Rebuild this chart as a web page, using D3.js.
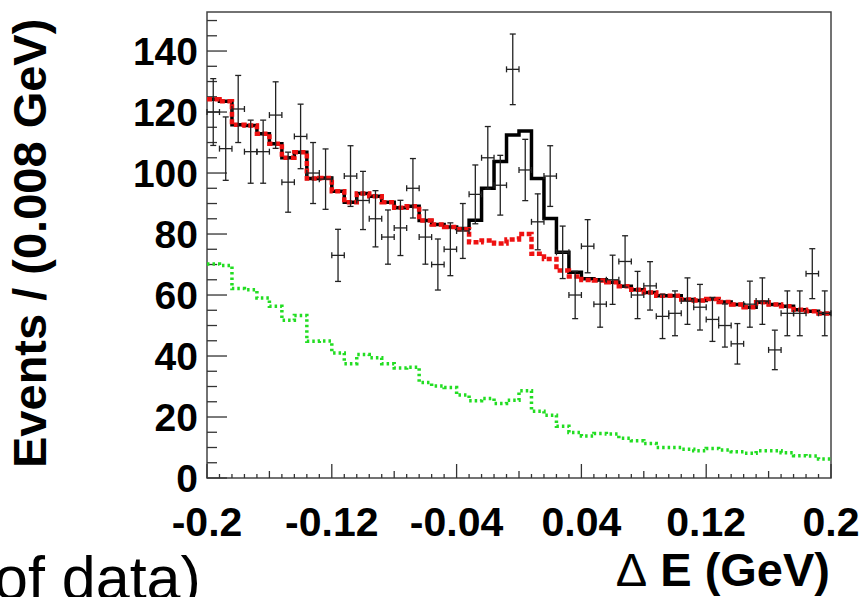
<!DOCTYPE html>
<html>
<head>
<meta charset="utf-8">
<script src="https://cdn.jsdelivr.net/npm/d3@7"></script>
<style>
  body { margin: 0; background: #fff; }
  text { font-family: "Liberation Sans", Arial, Helvetica, sans-serif; }
</style>
</head>
<body>
<svg id="chart"></svg>
<script>
// constants
const width = 864;
const height = 597;
const margin = { left: 207, right: 33, top: 12, bottom: 119 };
const visWidth = width - margin.left - margin.right
const visHeight = height - margin.top - margin.bottom

// 50 bins of 0.008 GeV between -0.2 and 0.2
const binLow = -0.2
const binWidth = 0.008

// data counts per bin
const dataCounts = [120, 108, 121, 107, 107, 119, 97, 112, 100, 98,
    73, 99, 91, 85, 79, 82, 95, 79, 70, 75,
    81, 93, 105, 96, 134, 101, 84, 99, 74, 60,
    76, 57, 65, 71, 60, 63, 53, 54, 58, 56,
    52, 50, 44, 57, 58, 42, 54, 54, 67, 54]

// total fit (black solid)
const fitTotal = [124.2, 123.5, 115.8, 115.6, 112.9, 109.6, 105, 106.8, 98.2, 98.4,
    94, 90.4, 93.3, 92.4, 90.4, 88.6, 89.1, 84.4, 83.1, 82.3,
    81.8, 84.5, 95, 103.8, 112.5, 113.8, 98.2, 85.1, 74, 67.5,
    65.3, 65, 64.2, 62.9, 61.7, 60.8, 59.8, 59.8, 58.5, 58.2,
    58.7, 57.7, 56.9, 56, 57.6, 56.9, 56.3, 55.2, 54.7, 53.9]

// background component (red dashed)
const fitBkg = [124.2, 123.5, 115.8, 115.6, 112.9, 109.6, 105, 106.8, 98.2, 98.4,
    94, 90.4, 93.3, 92.4, 90.4, 88.6, 89.1, 84.4, 83.1, 82.3,
    81.6, 77.3, 77.9, 76.9, 78.2, 80, 73.5, 71.8, 68, 66.1,
    64.9, 64.8, 64.2, 62.9, 61.7, 60.8, 59.8, 59.8, 58.5, 58.2,
    58.7, 57.7, 56.9, 56, 57.6, 56.9, 56.3, 55.2, 54.7, 53.9]

// peaking background component (green dotted)
const fitGreen = [70.2, 69.7, 62.1, 61.7, 59, 56.3, 51.7, 53.3, 44.8, 44.9,
    41, 37.5, 40.5, 39.4, 37.5, 36.1, 36.3, 31.3, 30.2, 29.7,
    27.2, 25.3, 26.1, 24.4, 25.5, 28.6, 21.9, 20.6, 17, 14.9,
    13.8, 14.6, 14.4, 13, 12.2, 11.3, 10, 10, 9.4, 8.9,
    9.7, 9.2, 8.6, 8.1, 8.9, 8.9, 8.3, 7.3, 7.2, 6.2]

const xTicks = [-0.2, -0.12, -0.04, 0.04, 0.12, 0.2]
const xTickLabels = ["-0.2", "-0.12", "-0.04", "0.04", "0.12", "0.2"]
const yTicks = [0, 20, 40, 60, 80, 100, 120, 140]

const svg = d3.select('svg#chart').attr('width', width).attr('height', height)

const x = d3.scaleLinear().domain([-0.2, 0.2]).range([margin.left, margin.left + visWidth])
const y = d3.scaleLinear().domain([0, 152.8]).range([margin.top + visHeight, margin.top])

const bins = dataCounts.map((n, i) => ({
    lo: binLow + i * binWidth,
    hi: binLow + (i + 1) * binWidth,
    mid: binLow + (i + 0.5) * binWidth,
    n: n,
    err: Math.sqrt(n)
}))

// frame
svg.append('rect')
    .attr('x', x(-0.2)).attr('y', y(152.8))
    .attr('width', x(0.2) - x(-0.2)).attr('height', y(0) - y(152.8))
    .attr('fill', 'none').attr('stroke', '#444').attr('stroke-width', 1.5)

// y ticks: major every 20, minor every 5
const yMinor = d3.range(0, 153, 5)
svg.append('g').selectAll('line').data(yMinor).enter().append('line')
    .attr('x1', x(-0.2)).attr('x2', d => x(-0.2) + (d % 20 === 0 ? 20 : 10))
    .attr('y1', d => y(d)).attr('y2', d => y(d))
    .attr('stroke', '#333').attr('stroke-width', 1.3)

// x ticks: major every 0.08, minor every 0.008
const xMinor = d3.range(0, 51).map(i => -0.2 + i * 0.008)
svg.append('g').selectAll('line').data(xMinor).enter().append('line')
    .attr('x1', d => x(d)).attr('x2', d => x(d))
    .attr('y1', y(0))
    .attr('y2', (d, i) => y(0) - (i % 10 === 0 ? 14 : (i % 5 === 0 ? 7 : 4)))
    .attr('stroke', '#333').attr('stroke-width', 1.3)

// tick labels
svg.append('g').selectAll('text').data(yTicks).enter().append('text')
    .attr('x', 198).attr('y', d => y(d))
    .attr('dy', '0.36em')
    .attr('text-anchor', 'end')
    .style('font-size', '39px').style('font-weight', 'bold')
    .text(d => d)

svg.append('g').selectAll('text').data(xTicks).enter().append('text')
    .attr('x', d => x(d)).attr('y', 536)
    .attr('text-anchor', 'middle')
    .style('font-size', '41px').style('font-weight', 'bold')
    .text((d, i) => xTickLabels[i])

// axis titles
svg.append('text')
    .attr('transform', 'translate(46, 468) rotate(-90)')
    .attr('text-anchor', 'start')
    .style('font-size', '47px').style('font-weight', 'bold')
    .text('Events / (0.008 GeV)')

const xTitle = svg.append('text')
    .attr('x', 830).attr('y', 586)
    .attr('text-anchor', 'end')
    .style('font-size', '47px').style('font-weight', 'bold')
xTitle.append('tspan').style('font-weight', 'normal').text('\u0394')
xTitle.append('tspan').text(' E (GeV)')

// leftover slide text
svg.append('text')
    .attr('x', -6).attr('y', 599)
    .style('font-size', '61px')
    .text('of data)')

// histogram-style step paths
function stepLine(vals) {
    const pts = vals.map((v, i) => [binLow + i * binWidth, v])
    pts.push([binLow + vals.length * binWidth, vals[vals.length - 1]])
    return d3.line().x(d => x(d[0])).y(d => y(d[1])).curve(d3.curveStepAfter)(pts)
}

svg.append('path').attr('d', stepLine(fitGreen))
    .attr('fill', 'none').attr('stroke', '#22dd22').attr('stroke-width', 3.5)
    .attr('stroke-dasharray', '2.5,3')

svg.append('path').attr('d', stepLine(fitTotal))
    .attr('fill', 'none').attr('stroke', '#000').attr('stroke-width', 3.5)

svg.append('path').attr('d', stepLine(fitBkg))
    .attr('fill', 'none').attr('stroke', '#ee1111').attr('stroke-width', 4.5)
    .attr('stroke-dasharray', '5,2.5')

// data points with error bars
const pts = svg.append('g').attr('stroke', '#222').attr('stroke-width', 1.3)
const pt = pts.selectAll('g').data(bins).enter().append('g')
pt.append('line')
    .attr('x1', d => x(d.lo)).attr('x2', d => x(d.hi))
    .attr('y1', d => y(d.n)).attr('y2', d => y(d.n))
pt.append('line')
    .attr('x1', d => x(d.mid)).attr('x2', d => x(d.mid))
    .attr('y1', d => y(d.n - d.err)).attr('y2', d => y(d.n + d.err))
pt.append('line')
    .attr('x1', d => x(d.mid) - 3).attr('x2', d => x(d.mid) + 3)
    .attr('y1', d => y(d.n + d.err)).attr('y2', d => y(d.n + d.err))
pt.append('line')
    .attr('x1', d => x(d.mid) - 3).attr('x2', d => x(d.mid) + 3)
    .attr('y1', d => y(d.n - d.err)).attr('y2', d => y(d.n - d.err))
pt.append('line')
    .attr('x1', d => x(d.lo)).attr('x2', d => x(d.lo))
    .attr('y1', d => y(d.n) - 3).attr('y2', d => y(d.n) + 3)
pt.append('line')
    .attr('x1', d => x(d.hi)).attr('x2', d => x(d.hi))
    .attr('y1', d => y(d.n) - 3).attr('y2', d => y(d.n) + 3)
</script>
</body>
</html>
